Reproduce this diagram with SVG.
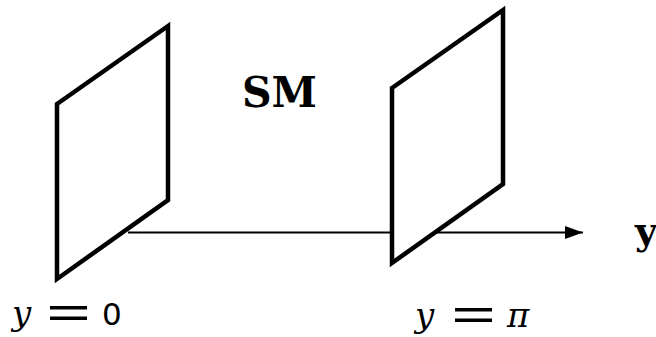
<svg xmlns="http://www.w3.org/2000/svg" width="656" height="337" viewBox="0 0 656 337">
<style>
.plane{fill:#fff;stroke:#000;stroke-width:4.5;stroke-linejoin:miter}
.axis{stroke:#000;stroke-width:2;fill:none}
.bold{font-family:'DejaVu Serif',serif;font-weight:700;fill:#000}
.mi{font-family:'DejaVu Serif',serif;font-style:italic;fill:#000;font-size:34px}
.rm{font-family:'DejaVu Sans',sans-serif;fill:#000;font-size:31px}
</style>
<defs>
<marker id="arr" markerUnits="userSpaceOnUse" markerWidth="19" markerHeight="13" refX="18" refY="6.5" orient="auto">
<path d="M0,0 L18,6.5 L0,13 Z" fill="#000"/>
</marker>
</defs>
<g id="connectors">
<line class="axis" x1="128" y1="232.5" x2="583" y2="232.5" marker-end="url(#arr)"/>
</g>
<g id="brane0">
<polygon class="plane" points="57,104 168,26 168,200 57,279" style="fill:none"/>
</g>
<g id="branePi">
<polygon class="plane" points="392,88 503,10 503,184 392,263"/>
</g>
<g id="labels">
<text class="bold" x="242" y="107" font-size="42" textLength="75" lengthAdjust="spacingAndGlyphs">SM</text>
<text class="bold" x="635" y="244" font-size="38">y</text>
<text class="mi" x="12" y="325">y</text>
<rect x="50" y="306" width="37" height="3.5" fill="#000"/>
<rect x="50" y="316.5" width="37" height="3.5" fill="#000"/>
<text class="rm" x="102" y="325">0</text>
<text class="mi" x="415" y="327">y</text>
<rect x="455" y="308" width="37" height="3.5" fill="#000"/>
<rect x="455" y="318.5" width="37" height="3.5" fill="#000"/>
<text class="mi" x="507" y="327">π</text>
</g>
</svg>
